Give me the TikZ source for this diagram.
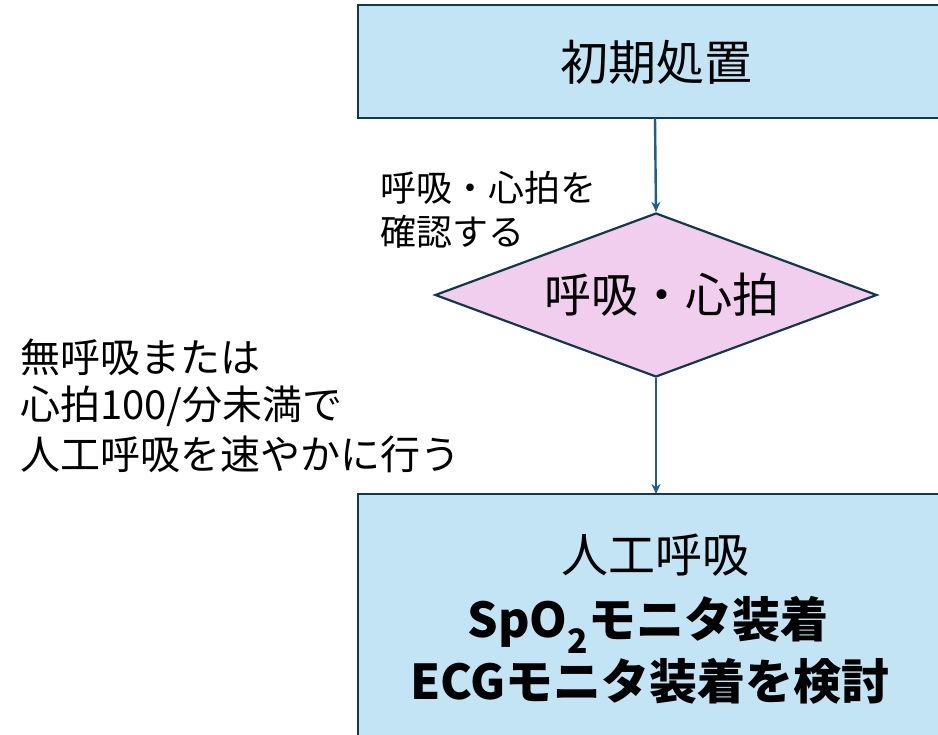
\documentclass[tikz,border=0pt]{standalone}
\usepackage{fontspec}
\setmainfont{Noto Sans CJK JP}
\usetikzlibrary{shapes.geometric,arrows.meta}
\definecolor{boxfill}{HTML}{C2E4F4}
\definecolor{diafill}{HTML}{F2CEEE}
\definecolor{edge}{HTML}{15374A}
\definecolor{arrowc}{HTML}{1F5F86}
\tikzset{
  procbox/.style={draw=edge,line width=2.4pt,fill=boxfill},
  decision/.style={diamond,draw=edge,line width=2.2pt,fill=diafill,minimum width=442pt,minimum height=164pt,inner sep=0pt,aspect=2.7},
  flow/.style={draw=arrowc,line width=2.4pt,-{Stealth[length=10pt,width=9pt]}},
  lbl/.style={inner sep=0pt,anchor=west,align=left}
}
\begin{document}
\begin{tikzpicture}[x=1pt,y=-1pt]
\useasboundingbox (0,0) rectangle (938,735);
\clip (0,0) rectangle (938,735);
\fill[white] (0,0) rectangle (938,735);
% top box
\draw[procbox] (358,5) rectangle (960,118);
\coordinate (topb) at (655,118);
\node[inner sep=0pt] (init) at (656,62) {\fontsize{48}{56}\selectfont 初期処置};
% diamond
\node[decision] (dec) at (656,295) {};
\node[inner sep=0pt] (dectxt) at (662,295) {\fontsize{47}{56}\selectfont 呼吸・心拍};
% bottom box
\draw[procbox] (358,494) rectangle (960,760);
\coordinate (botb) at (656,494);
\node[inner sep=0pt] (vent) at (655,555) {\fontsize{47}{56}\selectfont 人工呼吸};
\node[inner sep=0pt,font=\bfseries] (spo) at (648,625) {\fontsize{48}{56}\selectfont SpO$_{\mathbf 2}$モニタ装着};
\node[inner sep=0pt,font=\bfseries] (ecg) at (650,681) {\fontsize{48}{56}\selectfont ECGモニタ装着を検討};
% arrows
\draw[flow] (topb) -- (dec.north);
\draw[flow] (dec.south) -- (botb);
% labels
\node[lbl] (chk1) at (380,188) {\fontsize{36}{44}\selectfont 呼吸・心拍を};
\node[lbl] (chk2) at (380,232) {\fontsize{36}{44}\selectfont 確認する};
\node[lbl] (l1) at (20,357) {\fontsize{40}{48}\selectfont 無呼吸または};
\node[lbl] (l2) at (20,406) {\fontsize{40}{48}\selectfont 心拍100/分未満で};
\node[lbl] (l3) at (20,454) {\fontsize{40}{48}\selectfont 人工呼吸を速やかに行う};
\end{tikzpicture}
\end{document}
